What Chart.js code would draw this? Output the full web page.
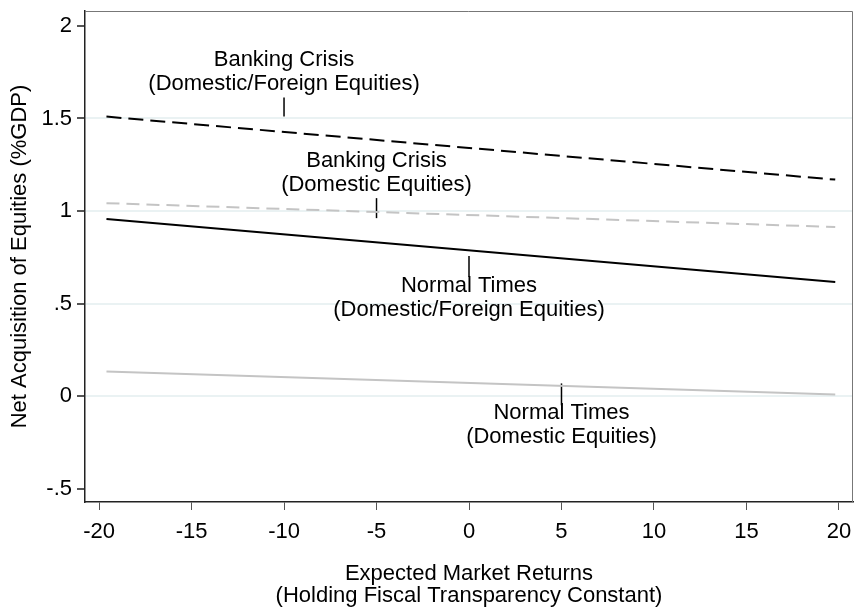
<!DOCTYPE html>
<html>
<head>
<meta charset="utf-8">
<script src="https://cdn.jsdelivr.net/npm/chart.js@4.4.1/dist/chart.umd.min.js"></script>
<style>
  html, body { margin: 0; padding: 0; background: #fff; }
  #wrap { width: 854px; height: 609px; }
</style>
</head>
<body>
<div id="wrap"><canvas id="chart1"></canvas></div>
<script>
// Datos (extremos de cada recta ajustada).
const xReturns = [-19.6, 19.8];
const bankingDomForeign = [1.51, 1.17];
const bankingDomestic = [1.043, 0.914];
const normalDomForeign = [0.957, 0.618];
const normalDomestic = [0.134, 0.01];

// Ticks de los ejes.
const xTicks = [-20, -15, -10, -5, 0, 5, 10, 15, 20];
const yTicks = [-0.5, 0, 0.5, 1, 1.5, 2];
const yTickLabels = ['-.5', '0', '.5', '1', '1.5', '2'];

// Etiquetas de texto dentro del gráfico.
const annLabels = [
    ['Banking Crisis', '(Domestic/Foreign Equities)'],
    ['Banking Crisis', '(Domestic Equities)'],
    ['Normal Times', '(Domestic/Foreign Equities)'],
    ['Normal Times', '(Domestic Equities)']
];
const annX = [-10, -5, 0, 5];
const annTextY = [1.817, 1.269, 0.597, -0.091];
const annTickFrom = [1.51, 0.962, 0.645, -0.048];
const annTickTo = [1.613, 1.07, 0.758, 0.07];

const FONT = '"Liberation Sans", Arial, sans-serif';
const FONT_SIZE = 22;

const toPoints = (xs, ys) => xs.map((x, i) => ({ x: x, y: ys[i] }));

// Segmentos verticales que unen cada etiqueta con su recta.
const tickSets = annX.map((x, i) => ({
    data: [{ x: x, y: annTickFrom[i] }, { x: x, y: annTickTo[i] }],
    borderColor: '#000',
    borderWidth: 1.5,
    pointRadius: 0
}));

// Plugin para el marco superior/derecho y los textos.
const extras = {
    id: 'extras',
    afterDraw(chart) {
        const { ctx, chartArea: a, scales: { x, y } } = chart;
        ctx.save();
        ctx.strokeStyle = '#777';
        ctx.lineWidth = 1;
        ctx.beginPath();
        ctx.moveTo(a.left, a.top + 0.5);
        ctx.lineTo(a.right - 0.5, a.top + 0.5);
        ctx.lineTo(a.right - 0.5, a.bottom);
        ctx.stroke();

        ctx.fillStyle = '#000';
        ctx.font = FONT_SIZE + 'px ' + FONT;
        ctx.textAlign = 'center';
        ctx.textBaseline = 'middle';
        annLabels.forEach((lines, i) => {
            const px = x.getPixelForValue(annX[i]);
            const py = y.getPixelForValue(annTextY[i]);
            lines.forEach((t, j) => ctx.fillText(t, px, py + j * 24));
        });

        // Títulos de los ejes.
        const cx = (a.left + a.right) / 2;
        ctx.fillText('Expected Market Returns', cx, 574);
        ctx.fillText('(Holding Fiscal Transparency Constant)', cx, 596);
        ctx.translate(20, (a.top + a.bottom) / 2);
        ctx.rotate(-Math.PI / 2);
        ctx.fillText('Net Acquisition of Equities (%GDP)', 0, 0);
        ctx.restore();
    }
};

new Chart(document.getElementById('chart1'), {
    type: 'line',
    data: {
        datasets: [
            {
                data: toPoints(xReturns, bankingDomForeign),
                borderColor: '#000',
                borderWidth: 2,
                borderDash: [15, 7],
                pointRadius: 0
            },
            {
                data: toPoints(xReturns, bankingDomestic),
                borderColor: '#c4c4c4',
                borderWidth: 2,
                borderDash: [13, 7],
                pointRadius: 0
            },
            {
                data: toPoints(xReturns, normalDomForeign),
                borderColor: '#000',
                borderWidth: 2,
                pointRadius: 0
            },
            {
                data: toPoints(xReturns, normalDomestic),
                borderColor: '#c4c4c4',
                borderWidth: 2,
                pointRadius: 0
            },
            ...tickSets
        ]
    },
    options: {
        responsive: true,
        maintainAspectRatio: false,
        animation: false,
        layout: { padding: { top: 11, right: 1, left: 0, bottom: 0 } },
        plugins: {
            legend: { display: false },
            tooltip: { enabled: false }
        },
        scales: {
            x: {
                type: 'linear',
                min: -20.76,
                max: 20.76,
                afterBuildTicks: (s) => { s.ticks = xTicks.map(v => ({ value: v })); },
                afterFit: (s) => { s.height = 107; s.paddingLeft = 0; s.paddingRight = 0; },
                border: { color: '#222', width: 1.5 },
                grid: { drawOnChartArea: false, tickLength: 8, tickColor: '#555' },
                ticks: {
                    color: '#000',
                    padding: 9,
                    maxRotation: 0,
                    font: { family: FONT, size: FONT_SIZE }
                }
            },
            y: {
                type: 'linear',
                min: -0.57,
                max: 2.08,
                afterBuildTicks: (s) => { s.ticks = yTicks.map(v => ({ value: v })); },
                afterFit: (s) => { s.width = 85; s.paddingTop = 0; s.paddingBottom = 0; },
                border: { color: '#222', width: 1.5 },
                grid: {
                    tickLength: 8,
                    tickColor: '#555',
                    lineWidth: 2,
                    color: (c) => (c.tick && c.tick.value > -0.5 && c.tick.value < 2) ? '#eaf2f3' : 'rgba(0,0,0,0)'
                },
                ticks: {
                    color: '#000',
                    padding: 5,
                    font: { family: FONT, size: FONT_SIZE },
                    callback: (v) => yTickLabels[yTicks.indexOf(v)]
                }
            }
        }
    },
    plugins: [extras]
});
</script>
</body>
</html>
